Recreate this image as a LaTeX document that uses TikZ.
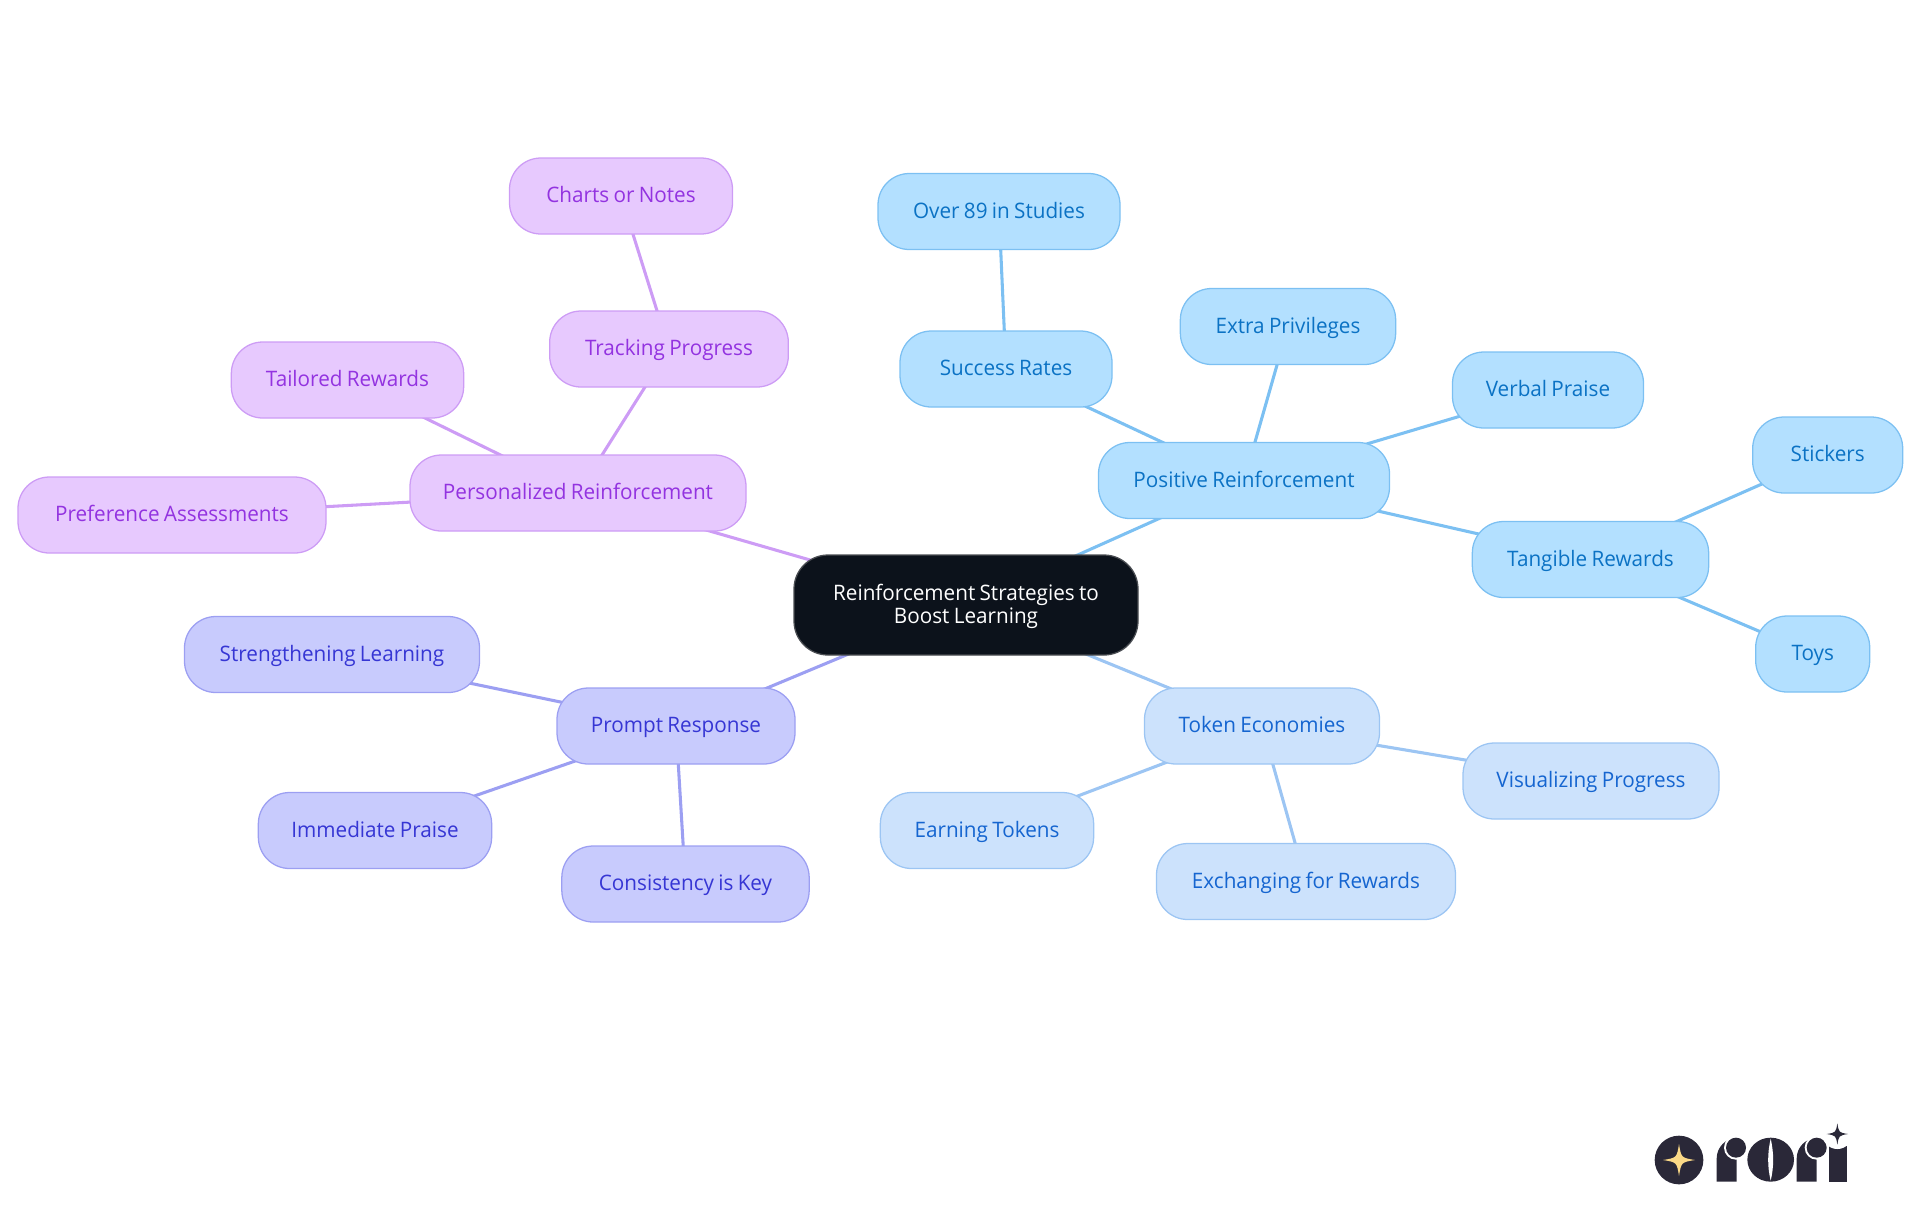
\documentclass[tikz,border=0pt]{standalone}
\usepackage{fontspec}
\setmainfont[FakeStretch=0.97,WordSpace=0.8]{Open Sans}
\usetikzlibrary{backgrounds}
\definecolor{posFill}{HTML}{B3E0FF}\definecolor{posLine}{HTML}{7CC0F2}\definecolor{posText}{HTML}{0B72C4}
\definecolor{tokFill}{HTML}{CCE2FC}\definecolor{tokLine}{HTML}{9CC5F3}\definecolor{tokText}{HTML}{1565D0}
\definecolor{proFill}{HTML}{C8CBFD}\definecolor{proLine}{HTML}{9C9FF2}\definecolor{proText}{HTML}{3636D4}
\definecolor{perFill}{HTML}{E7C9FE}\definecolor{perLine}{HTML}{CD9CF5}\definecolor{perText}{HTML}{9333E0}
\definecolor{rootFill}{HTML}{0C121B}\definecolor{rootLine}{HTML}{4A4D52}
\definecolor{logoDark}{HTML}{2A2838}\definecolor{logoStar}{HTML}{FBD987}
\newcommand{\logostar}[4]{\fill[#4] ({#1+#3},{#2}) .. controls ({#1+.14*#3},{#2+.14*#3}) .. ({#1},{#2+#3}) .. controls ({#1-.14*#3},{#2+.14*#3}) .. ({#1-#3},{#2}) .. controls ({#1-.14*#3},{#2-.14*#3}) .. ({#1},{#2-#3}) .. controls ({#1+.14*#3},{#2-.14*#3}) .. cycle;}
\tikzset{
  mm/.style={rounded corners=23.5pt,line width=0.95pt,minimum height=57pt,inner sep=0pt,
    font=\fontsize{16pt}{19pt}\selectfont,text height=12pt,text depth=2pt},
  boxpos/.style={mm,fill=posFill,draw=posLine,text=posText},
  boxtok/.style={mm,fill=tokFill,draw=tokLine,text=tokText},
  boxpro/.style={mm,fill=proFill,draw=proLine,text=proText},
  boxper/.style={mm,fill=perFill,draw=perLine,text=perText},
  boxroot/.style={rounded corners=25.5pt,line width=0.95pt,minimum height=75pt,minimum width=258pt,inner sep=0pt,
    fill=rootFill,draw=rootLine,text=white,align=center,font=\fontsize{16pt}{17.25pt}\selectfont},
  wpos/.style={line width=2.3pt,draw=posLine},
  wtok/.style={line width=2.3pt,draw=tokLine},
  wpro/.style={line width=2.3pt,draw=proLine},
  wper/.style={line width=2.3pt,draw=perLine},
}
\begin{document}
\begin{tikzpicture}[x=0.75pt,y=-0.75pt]
\path[use as bounding box] (0,0) rectangle (1920,1215);
\node[boxroot] (root) at (966,605) {\rule{0pt}{14.5pt}Reinforcement Strategies to\\Boost Learning};
\node[boxpos,minimum width=218.25pt] (positive) at (1244,480.5) {Positive Reinforcement};
\node[boxpos,minimum width=159pt] (success) at (1006,369) {Success Rates};
\node[boxpos,minimum width=181.5pt] (over) at (999,211.5) {Over 89 in Studies};
\node[boxpos,minimum width=161.5pt] (extra) at (1288,326.5) {Extra Privileges};
\node[boxpos,minimum width=143.25pt] (verbal) at (1548,390) {Verbal Praise};
\node[boxpos,minimum width=177.25pt] (tangible) at (1590.5,559.5) {Tangible Rewards};
\node[boxpos,minimum width=112.5pt] (stickers) at (1827.7,455) {Stickers};
\node[boxpos,minimum width=85.5pt] (toys) at (1812.7,654) {Toys};
\node[boxtok,minimum width=176.25pt] (token) at (1262,726) {Token Economies};
\node[boxtok,minimum width=192pt] (visual) at (1591,781) {Visualizing Progress};
\node[boxtok,minimum width=224.25pt] (exchange) at (1306,881.5) {Exchanging for Rewards};
\node[boxtok,minimum width=160pt] (earning) at (987,830.5) {Earning Tokens};
\node[boxpro,minimum width=178.5pt] (prompt) at (676,726) {Prompt Response};
\node[boxpro,minimum width=221.25pt] (strength) at (332,654.5) {Strengthening Learning};
\node[boxpro,minimum width=175pt] (immediate) at (375,830.5) {Immediate Praise};
\node[boxpro,minimum width=185.5pt] (consistency) at (685.5,884) {Consistency is Key};
\node[boxper,minimum width=252pt] (personal) at (578,493) {Personalized Reinforcement};
\node[boxper,minimum width=231pt] (preference) at (172,515) {Preference Assessments};
\node[boxper,minimum width=174.25pt] (tailored) at (347.5,380) {Tailored Rewards};
\node[boxper,minimum width=179pt] (tracking) at (669,349) {Tracking Progress};
\node[boxper,minimum width=167.25pt] (charts) at (621,196) {Charts or Notes};
\begin{scope}[on background layer]
\draw[wpos] (root.center) -- (positive.center);
\draw[wpos] (positive.center) -- (success.center);
\draw[wpos] (success.center) -- (over.center);
\draw[wpos] (positive.center) -- (extra.center);
\draw[wpos] (positive.center) -- (verbal.center);
\draw[wpos] (positive.center) -- (tangible.center);
\draw[wpos] (tangible.center) -- (stickers.center);
\draw[wpos] (tangible.center) -- (toys.center);
\draw[wtok] (root.center) -- (token.center);
\draw[wtok] (token.center) -- (visual.center);
\draw[wtok] (token.center) -- (exchange.center);
\draw[wtok] (token.center) -- (earning.center);
\draw[wpro] (root.center) -- (prompt.center);
\draw[wpro] (prompt.center) -- (strength.center);
\draw[wpro] (prompt.center) -- (immediate.center);
\draw[wpro] (prompt.center) -- (consistency.center);
\draw[wper] (root.center) -- (personal.center);
\draw[wper] (personal.center) -- (preference.center);
\draw[wper] (personal.center) -- (tailored.center);
\draw[wper] (personal.center) -- (tracking.center);
\draw[wper] (tracking.center) -- (charts.center);
\end{scope}
% logo
\begin{scope}[shift={(1620,1100)},x=0.25pt,y=-0.25pt]
\fill[logoDark] (177,180) circle[radius=73];
\logostar{177}{180}{48}{logoStar}
% first r
\fill[logoDark] (290,245) -- (290,175) .. controls (290,142) and (317,114) .. (350,114) -- (350,245) -- cycle;
\fill[white] (348,143) circle[radius=36];
\fill[logoDark] (348,143) circle[radius=30];
% o
\fill[logoDark] (452,179) ellipse[x radius=70,y radius=66];
\fill[white] (452,116) .. controls (442,160) and (442,200) .. (452,242) .. controls (462,200) and (462,160) .. cycle;
% second r
\fill[logoDark] (530,245) -- (530,175) .. controls (530,142) and (557,114) .. (590,114) -- (590,245) -- cycle;
\fill[white] (590,143) circle[radius=36];
\fill[logoDark] (590,143) circle[radius=30];
% i
\fill[logoDark] (627,245) rectangle (680,137);
\fill[white] (652,102) circle[radius=45];
\logostar{652}{102}{32}{logoDark}
\end{scope}
\end{tikzpicture}
\end{document}
